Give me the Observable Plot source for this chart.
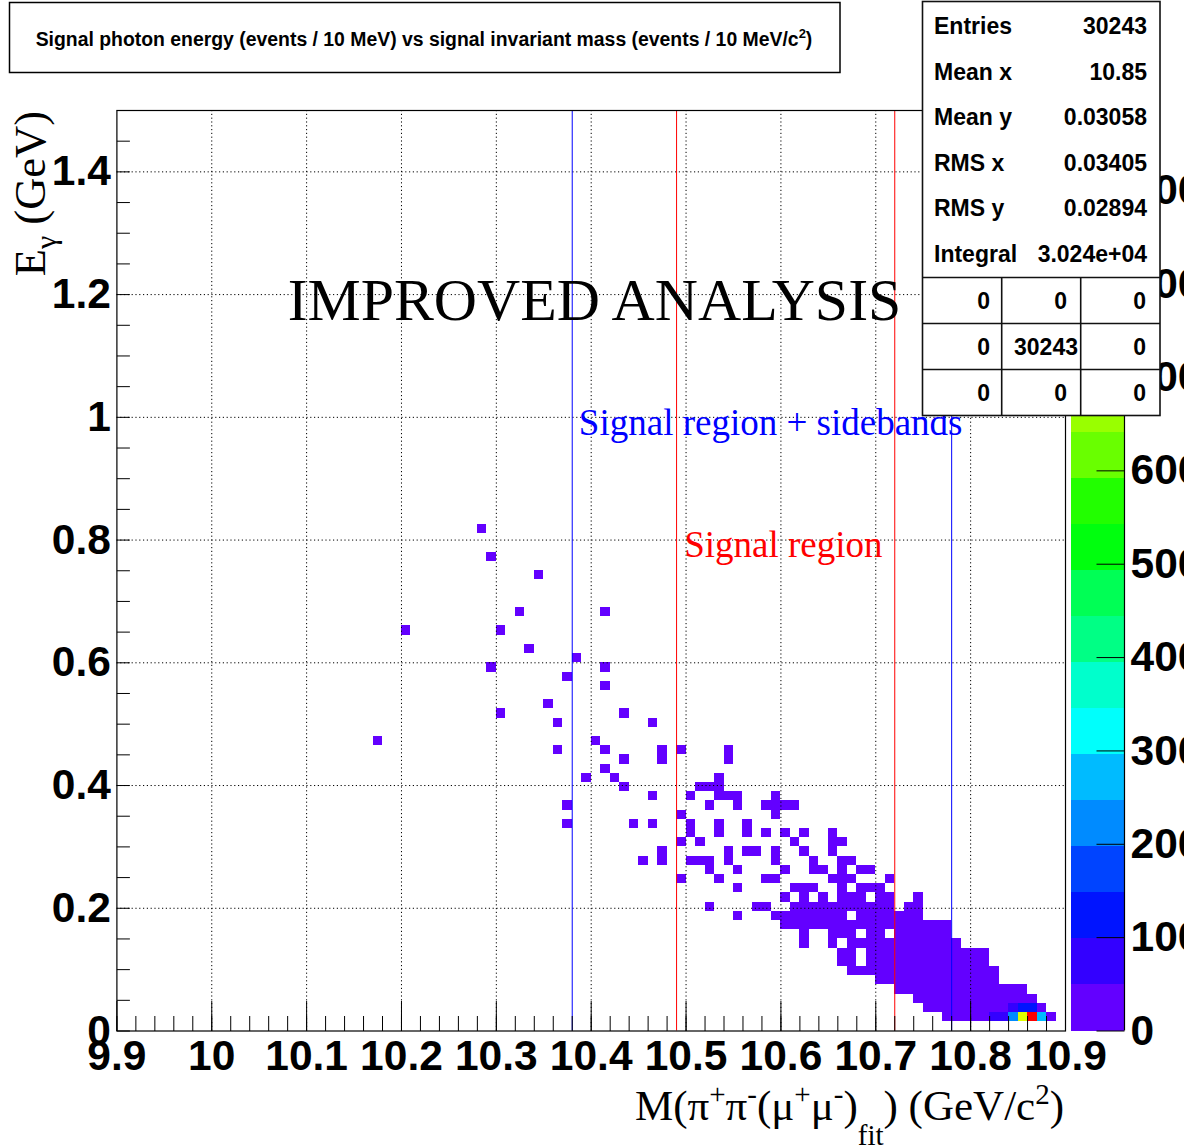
<!DOCTYPE html>
<html>
<head>
<meta charset="utf-8">
<script src="https://cdn.jsdelivr.net/npm/d3@7"></script>
<script src="https://cdn.jsdelivr.net/npm/@observablehq/plot@0.6"></script>
<style>
  html, body { margin: 0; padding: 0; background: #fff; }
  #figure { position: relative; width: 1194px; height: 1145px; overflow: hidden; }
  #figure > svg { position: absolute; left: 0; top: 0; }
</style>
</head>
<body>
<div id="figure"></div>
<script>
// Binning: 100 mass bins of 10 MeV/c² on [9.9, 10.9], 100 photon-energy bins of 15 MeV on [0, 1.5]
const massMin = 9.9, massBinWidth = 0.01;
const energyMin = 0, energyBinWidth = 0.015;

// Occupied cells, one entry per energy bin: [energy bin, mass bins, estimated events per cell]
const occupiedRows = [
  [1, "87-91,98", 80],
  [2, "85-93,97", 60],
  [3, "84-96", 40],
  [4, "82-95", 30],
  [5, "80-92", 25],
  [6, "77-92", 20],
  [7, "76-77,79-91", 15],
  [8, "76-77,79-91", 12],
  [9, "72,75,77-88", 10],
  [10, "72,75-77,79-80,82-87", 8],
  [11, "70-87", 7],
  [12, "65,69-76,78-84", 5],
  [13, "62,67-68,71-81,83-84", 4],
  [14, "70,72,74,76-78,80-81,84", 2],
  [15, "65,71-73,76,78-80", 2],
  [16, "59,63,68-69,75-77,81", 2],
  [17, "62,65,70,73-74,76,78-79", 2],
  [18, "55,57,60-62,64,69,73,76-77", 2],
  [19, "57,64,66-67,69,72,75", 2],
  [20, "59,61,71,75-76", 2],
  [21, "60,63,66,68,70,72,75", 1],
  [22, "47,54,56,60,63,66", 1],
  [23, "59,69", 1],
  [24, "47,62,65,68-71", 1],
  [25, "56,60,63-65,69", 1],
  [26, "53,61-63", 1],
  [27, "49,52,63", 1],
  [28, "51", 1],
  [29, "53,57,64", 1],
  [30, "46,51,57,59,64", 1],
  [31, "27,50", 1],
  [33, "46,56", 1],
  [34, "40,53", 1],
  [35, "45", 1],
  [37, "51", 1],
  [38, "47", 1],
  [39, "39,51", 1],
  [40, "48", 1],
  [41, "43", 1],
  [43, "30,40", 1],
  [45, "42,51", 1],
  [49, "44", 1],
  [51, "39", 1],
  [54, "38", 1]
];

// Highly populated cells at the kinematic endpoint
const peakMassBin   = [92, 93, 94, 95, 96, 97, 94, 95, 96];
const peakEnergyBin = [1, 1, 1, 1, 1, 1, 2, 2, 2];
const peakCount     = [700, 750, 2250, 7150, 9860, 2700, 650, 1200, 1150];

// Colour scale: 20 contour levels up to the maximum bin content
const zMax = 9860;
const nLevels = 20;

// Region markers (GeV/c²)
const sidebandEdges = [10.38, 10.78];
const signalEdges = [10.49, 10.72];

// Axis ticks
const xTickValues = [9.9, 10, 10.1, 10.2, 10.3, 10.4, 10.5, 10.6, 10.7, 10.8, 10.9];
const xMinorStep = 0.02;
const yTickValues = [0, 0.2, 0.4, 0.6, 0.8, 1, 1.2, 1.4];
const yMinorStep = 0.05;
const zTickValues = [0, 1000, 2000, 3000, 4000, 5000, 6000, 7000, 8000, 9000];

// Statistics box
const statsNames = ["Entries", "Mean x", "Mean y", "RMS x", "RMS y", "Integral"];
const statsValues = ["30243", "10.85", "0.03058", "0.03405", "0.02894", "3.024e+04"];
const overflowTable = [[0, 0, 0], [0, 30243, 0], [0, 0, 0]];

// Free text
const annotationText = ["IMPROVED ANALYSIS", "Signal region + sidebands", "Signal region"];
const annotationMass = [10.08, 10.387, 10.498];
const annotationEnergy = [1.158, 0.972, 0.773];
const annotationColor = ["#000000", "#0000ff", "#ff0000"];
const annotationSize = [59.8, 37, 37];

// ---------------------------------------------------------------------------
const W = 1184, H = 1145;
const frameLeft = 116.4, frameRight = 1065, frameTop = 110, frameBottom = 1030.5;
const sans = "'Liberation Sans', Arial, Helvetica, sans-serif";
const serif = "'Liberation Serif', 'Times New Roman', Times, serif";
const labelSize = 42.5;

function parseBins(spec) {
  return spec.split(",").flatMap(s => {
    const [a, b] = s.split("-").map(Number);
    return b === undefined ? [a] : d3.range(a, b + 1);
  });
}

const cellMap = new Map();
for (const [k, spec, n] of occupiedRows) {
  for (const i of parseBins(spec)) cellMap.set(`${i},${k}`, {i, k, count: n});
}
peakMassBin.forEach((i, j) => {
  const k = peakEnergyBin[j];
  cellMap.set(`${i},${k}`, {i, k, count: peakCount[j]});
});
const cells = Array.from(cellMap.values());

// ROOT "pretty" palette (50 hues, violet to red) sampled at 20 contour levels
const palette = d3.range(nLevels).map(j => {
  const idx = Math.floor((j + 0.99) * 50 / nLevels);
  const hue = 280 - (idx + 1) * 280 / 50;
  return d3.hsl(hue, 1, 0.5).formatHex();
});
const thresholds = d3.range(1, nLevels).map(j => j * zMax / nLevels);
const colorScale = {type: "threshold", domain: thresholds, range: palette};

const xMinorTicks = d3.range(0, 51).map(j => +(9.9 + j * xMinorStep).toFixed(2));
const yMinorTicks = d3.range(0, 31).map(j => +(j * yMinorStep).toFixed(2));

const tickShape = {draw(context, l) { context.moveTo(0, 0); context.lineTo(0, -l); }};
const tickStyle = {stroke: "#000", strokeWidth: 1, strokeLinecap: "butt", shape: tickShape, anchor: "start"};
const gridStyle = {stroke: "#000", strokeOpacity: 1, strokeWidth: 1, strokeDasharray: "1.2,2.6"};
const fmt = d => String(d);

const annotations = annotationText.map((t, j) => ({
  text: t, x: annotationMass[j], y: annotationEnergy[j], color: annotationColor[j], size: annotationSize[j]
}));

const main = Plot.plot({
  width: W, height: H,
  marginLeft: frameLeft, marginRight: W - frameRight,
  marginTop: frameTop, marginBottom: H - frameBottom,
  style: {background: "transparent", fontFamily: sans, color: "#000"},
  x: {domain: [9.9, 10.9]},
  y: {domain: [0, 1.5]},
  color: colorScale,
  marks: [
    Plot.rect(cells, {
      x1: d => massMin + d.i * massBinWidth,
      x2: d => massMin + (d.i + 1) * massBinWidth,
      y1: d => energyMin + d.k * energyBinWidth,
      y2: d => energyMin + (d.k + 1) * energyBinWidth,
      fill: "count",
      shapeRendering: "crispEdges"
    }),
    Plot.gridX(xTickValues.slice(1, -1), gridStyle),
    Plot.gridY(yTickValues.slice(1), gridStyle),
    Plot.ruleX(sidebandEdges, {stroke: "#0000ff", strokeWidth: 1}),
    Plot.ruleX(signalEdges, {stroke: "#ff0000", strokeWidth: 1}),
    Plot.text(annotations, {
      x: "x", y: "y", text: "text", fill: d => d.color, fontSize: d => d.size,
      fontFamily: serif, textAnchor: "start", lineAnchor: "bottom"
    }),
    Plot.vector(xMinorTicks, {x: d => d, frameAnchor: "bottom", length: 15, rotate: 0, ...tickStyle}),
    Plot.vector(xTickValues, {x: d => d, frameAnchor: "bottom", length: 30, rotate: 0, ...tickStyle}),
    Plot.vector(yMinorTicks, {y: d => d, frameAnchor: "left", length: 13, rotate: 90, ...tickStyle}),
    Plot.axisX({ticks: xTickValues, tickSize: 0, tickPadding: 9, tickFormat: fmt, label: null,
      fontSize: labelSize, fontWeight: "bold", fontFamily: sans}),
    Plot.axisY({ticks: yTickValues, tickSize: 0, tickPadding: 6, tickFormat: fmt, label: null,
      fontSize: labelSize, fontWeight: "bold", fontFamily: sans}),
    Plot.frame({stroke: "#000", strokeWidth: 1.2})
  ]
});

// Colour bar (z axis)
const bands = d3.range(nLevels).map(j => ({lo: j * zMax / nLevels, hi: (j + 1) * zMax / nLevels}));
const colorBar = Plot.plot({
  width: W, height: H,
  marginLeft: 1071, marginRight: W - 1124,
  marginTop: frameTop, marginBottom: H - frameBottom,
  style: {background: "transparent", fontFamily: sans, color: "#000"},
  x: {domain: [0, 1], axis: null},
  y: {domain: [0, zMax], axis: null},
  color: colorScale,
  marks: [
    Plot.rect(bands, {x1: 0, x2: 1, y1: "lo", y2: "hi", fill: d => (d.lo + d.hi) / 2, shapeRendering: "crispEdges"}),
    Plot.ruleX([1], {stroke: "#000", strokeWidth: 1.2}),
    Plot.vector(zTickValues, {y: d => d, frameAnchor: "right", length: 28, rotate: -90, ...tickStyle}),
    Plot.axisY({ticks: zTickValues, anchor: "right", tickSize: 0, tickPadding: 6, tickFormat: fmt, label: null,
      fontSize: labelSize, fontWeight: "bold", fontFamily: sans})
  ]
});

const fig = document.getElementById("figure");
fig.append(main, colorBar);

// Titles and statistics box
const svg = d3.select(fig).append("svg").attr("width", W).attr("height", H);

// Title box
svg.append("rect").attr("x", 9.5).attr("y", 2.5).attr("width", 830.5).attr("height", 70)
  .attr("fill", "#fff").attr("stroke", "#000").attr("stroke-width", 1.5);
const title = svg.append("text").attr("x", 424).attr("y", 45.5).attr("text-anchor", "middle")
  .attr("font-family", sans).attr("font-weight", "bold").attr("font-size", 19.4);
title.append("tspan").text("Signal photon energy (events / 10 MeV) vs signal invariant mass (events / 10 MeV/c");
title.append("tspan").text("2").attr("font-size", 13).attr("dy", -7.5);
title.append("tspan").text(")").attr("dy", 7.5);

// x-axis title
const xs = 43, xsup = 29, rise = 16, drop = 25;
const xt = svg.append("text").attr("x", 1064).attr("y", 1120).attr("text-anchor", "end")
  .attr("font-family", serif).attr("font-size", xs);
xt.append("tspan").text("M(π");
xt.append("tspan").text("+").attr("font-size", xsup).attr("dy", -rise);
xt.append("tspan").text("π").attr("dy", rise);
xt.append("tspan").text("-").attr("font-size", xsup).attr("dy", -rise);
xt.append("tspan").text("(μ").attr("dy", rise);
xt.append("tspan").text("+").attr("font-size", xsup).attr("dy", -rise);
xt.append("tspan").text("μ").attr("dy", rise);
xt.append("tspan").text("-").attr("font-size", xsup).attr("dy", -rise);
xt.append("tspan").text(")").attr("dy", rise);
xt.append("tspan").text("fit").attr("font-size", xsup).attr("dy", drop);
xt.append("tspan").text(") (GeV/c").attr("dy", -drop);
xt.append("tspan").text("2").attr("font-size", xsup).attr("dy", -rise);
xt.append("tspan").text(")").attr("dy", rise);

// y-axis title
const yt = svg.append("text").attr("transform", "translate(45,111) rotate(-90)")
  .attr("text-anchor", "end").attr("font-family", serif).attr("font-size", 44.5);
yt.append("tspan").text("E");
yt.append("tspan").text("γ").attr("font-size", 30).attr("dy", 11);
yt.append("tspan").text(" (GeV)").attr("dy", -11);

// Statistics box
const sb = svg.append("g").attr("font-family", sans).attr("font-weight", "bold").attr("font-size", 23);
sb.append("rect").attr("x", 922.5).attr("y", 1.5).attr("width", 237.5).attr("height", 414)
  .attr("fill", "#fff").attr("stroke", "#111").attr("stroke-width", 1.6);
const statBase = [34, 79.5, 125, 170.5, 216, 261.5];
statsNames.forEach((n, j) => {
  sb.append("text").attr("x", 934).attr("y", statBase[j]).text(n);
  sb.append("text").attr("x", 1147).attr("y", statBase[j]).attr("text-anchor", "end").text(statsValues[j]);
});
for (const yl of [277.5, 323.5, 369.5]) {
  sb.append("line").attr("x1", 922.5).attr("x2", 1160).attr("y1", yl).attr("y2", yl)
    .attr("stroke", "#111").attr("stroke-width", 1.6);
}
for (const xl of [1001.7, 1080.7]) {
  sb.append("line").attr("x1", xl).attr("x2", xl).attr("y1", 277.5).attr("y2", 415.5)
    .attr("stroke", "#111").attr("stroke-width", 1.6);
}
const colRight = [990, 1067, 1146];
const rowBase = [309, 355, 401];
overflowTable.forEach((row, r) => row.forEach((v, c) => {
  const s = String(v);
  const xr = s.length > 3 ? colRight[c] + 11 : colRight[c];
  sb.append("text").attr("x", xr).attr("y", rowBase[r]).attr("text-anchor", "end").text(s);
}));
</script>
</body>
</html>
